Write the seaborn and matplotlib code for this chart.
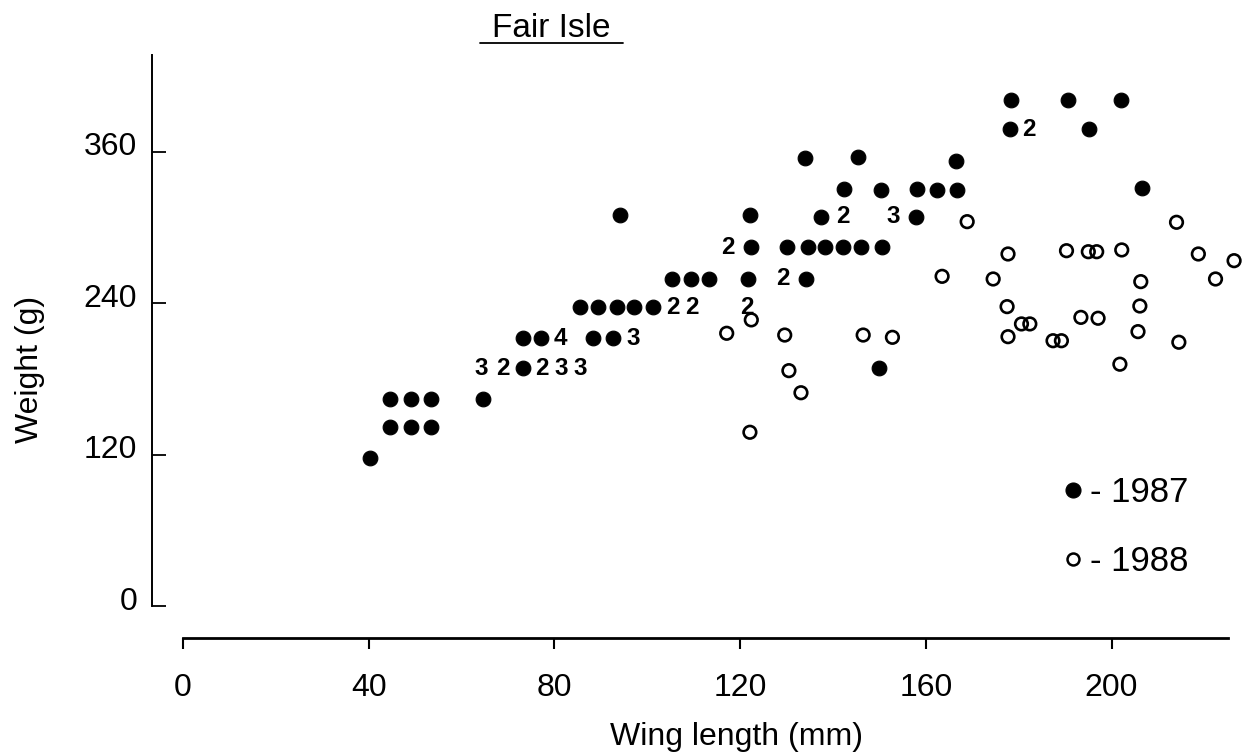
import matplotlib
matplotlib.use("Agg")
import matplotlib.pyplot as plt
import matplotlib.transforms as mtransforms
from matplotlib.lines import Line2D
from matplotlib.ticker import FixedLocator
import numpy as np
import pandas as pd
import seaborn as sns

# ---------------- data ----------------
wing_1987 = [40.2,
             44.5, 49.2, 53.5,
             44.5, 49.2, 53.5, 64.6,
             73.2, 149.9,
             73.2, 77.2, 88.3, 92.6,
             85.5, 89.4, 93.4, 97.1, 101.2,
             105.4, 109.4, 113.3, 121.6, 134.1,
             122.4, 130.0, 134.6, 138.2, 142.1, 146.1, 150.5,
             94.2, 122.1, 137.5, 157.8,
             142.4, 150.3, 158.0, 162.4, 166.7, 206.5,
             133.9, 145.4, 166.6,
             178.2, 195.1,
             178.3, 190.6, 202.0]
weight_1987 = [117.5,
               142.5, 142.5, 142.5,
               164, 164, 164, 164,
               188.5, 188.5,
               212.5, 212.5, 212.5, 212.5,
               237, 237, 237, 237, 237,
               259.5, 259.5, 259.5, 259.5, 259.5,
               285, 284.5, 284.5, 284.5, 284.5, 284.5, 284.5,
               310, 310, 308.5, 308.5,
               331, 329.5, 331, 330, 329.5, 331.5,
               355, 356, 353,
               378, 378,
               401, 401.5, 401]

wing_1988 = [122.1, 133.1, 130.5, 117.1, 129.6, 146.5, 152.8, 122.4,
             163.5, 168.9, 174.5, 177.7, 177.5, 177.7, 180.6, 182.4,
             187.4, 189.2, 190.3, 193.4, 195.0, 196.8, 197.1, 201.8,
             202.2, 205.7, 206.1, 206.3, 214.0, 214.5, 218.7, 222.4, 226.4]
weight_1988 = [138, 169.3, 186.8, 216.4, 215, 215, 213.2, 227,
               261.5, 304.8, 259.4, 279.2, 237.5, 213.7, 223.8, 223.8,
               210.5, 210.5, 281.8, 229, 281, 281, 228.3, 191.9,
               282.4, 217.7, 238, 257.3, 304.3, 209.3, 279.2, 259.4, 273.9]

# multiple birds at one position (number printed instead of a dot) - 1987
count_wing = [64.3, 68.9, 77.2, 81.5, 85.5, 81.2, 96.9, 105.6, 109.5,
              121.4, 129.3, 117.4, 142.1, 153.0, 182.3]
count_weight = [188.5, 188.5, 188.5, 188.5, 188.5, 212.5, 212.5, 237, 237,
                237, 259.5, 284.5, 309, 309, 378]
count_label = ["3", "2", "2", "3", "3", "4", "3", "2", "2",
               "2", "2", "2", "2", "3", "2"]

x_ticks = [0, 40, 80, 120, 160, 200]
y_ticks = [0, 120, 240, 360]
title = "Fair Isle"
x_label = "Wing length (mm)"
y_label = "Weight (g)"
legend_labels = ["- 1987", "- 1988"]

# ---------------- styling ----------------
sns.set_theme(style="ticks")
plt.rcParams["font.family"] = ["Liberation Sans", "DejaVu Sans"]
plt.rcParams["text.color"] = "black"
plt.rcParams["axes.labelcolor"] = "black"
plt.rcParams["axes.linewidth"] = 1.5

fig = plt.figure(figsize=(12.46, 7.56), dpi=100)
fig.patch.set_facecolor("white")
ax = fig.add_axes([0.1218, 0.156, 0.8746, 0.7766])
ax.set_facecolor("white")

df87 = pd.DataFrame({"wing": wing_1987, "weight": weight_1987})
df88 = pd.DataFrame({"wing": wing_1988, "weight": weight_1988})

sns.scatterplot(data=df87, x="wing", y="weight", ax=ax, marker="o", s=112,
                color="black", edgecolor="black", linewidth=0.8,
                clip_on=False, zorder=3)
sns.scatterplot(data=df88, x="wing", y="weight", ax=ax, marker="o", s=82,
                facecolors="none", edgecolor="black", linewidth=1.9,
                clip_on=False, zorder=3)

for cx, cy, lab in zip(count_wing, count_weight, count_label):
    ax.text(cx, cy, lab, ha="center", va="center", fontsize=17.5,
            fontweight="bold", color="black", zorder=4)

ax.set_xlim(-6.75, 228)
ax.set_ylim(-25, 440)

for side in ["top", "right"]:
    ax.spines[side].set_visible(False)
ax.spines["left"].set_bounds(0, 437)
ax.spines["bottom"].set_bounds(0, 225)
ax.spines["left"].set_linewidth(1.4)
ax.spines["bottom"].set_linewidth(2.0)
ax.spines["left"].set_color("black")
ax.spines["bottom"].set_color("black")

ax.set_xticks(x_ticks)
ax.set_xticklabels([str(v) for v in x_ticks])
ax.set_yticks(y_ticks)
ax.set_yticklabels([str(v) for v in y_ticks])
ax.xaxis.set_minor_locator(FixedLocator([0]))
ax.tick_params(axis="x", which="major", direction="out", length=8, width=1.5,
               pad=17, labelsize=23, colors="black")
ax.tick_params(axis="x", which="minor", direction="inout", length=14, width=1.5,
               colors="black")
ax.tick_params(axis="y", direction="in", length=10, width=1.3, pad=10.5,
               labelsize=23, colors="black")
offset = mtransforms.ScaledTranslation(0, 0.08, fig.dpi_scale_trans)
for lab in ax.get_yticklabels():
    lab.set_transform(lab.get_transform() + offset)

ax.set_xlabel(x_label, fontsize=23, color="black")
ax.set_ylabel(y_label, fontsize=23, color="black")
ax.xaxis.set_label_coords(0.537, -0.143)
ax.yaxis.set_label_coords(-0.098, 0.457)

# title with underline
fig.text(0.4428, 0.951, title, ha="center", va="baseline", fontsize=24,
         color="black")
fig.add_artist(Line2D([480 / 1246, 623 / 1246], [0.9431, 0.9431],
                      transform=fig.transFigure, color="black", lw=1.3))

# legend
handles = [Line2D([], [], linestyle="none", marker="o", markersize=10.8,
                  markerfacecolor="black", markeredgecolor="black",
                  markeredgewidth=0.8),
           Line2D([], [], linestyle="none", marker="o", markersize=8.6,
                  markerfacecolor="none", markeredgecolor="black",
                  markeredgewidth=1.8)]
leg = ax.legend(handles, legend_labels, loc="center left",
                bbox_to_anchor=(1059 / 1246, 0.3029),
                bbox_transform=fig.transFigure,
                frameon=False, fontsize=25, handlelength=0.8,
                handletextpad=0.1, labelspacing=1.05, borderpad=0,
                borderaxespad=0)
for t in leg.get_texts():
    t.set_color("black")

fig.savefig("out.png", dpi=100, facecolor="white")
